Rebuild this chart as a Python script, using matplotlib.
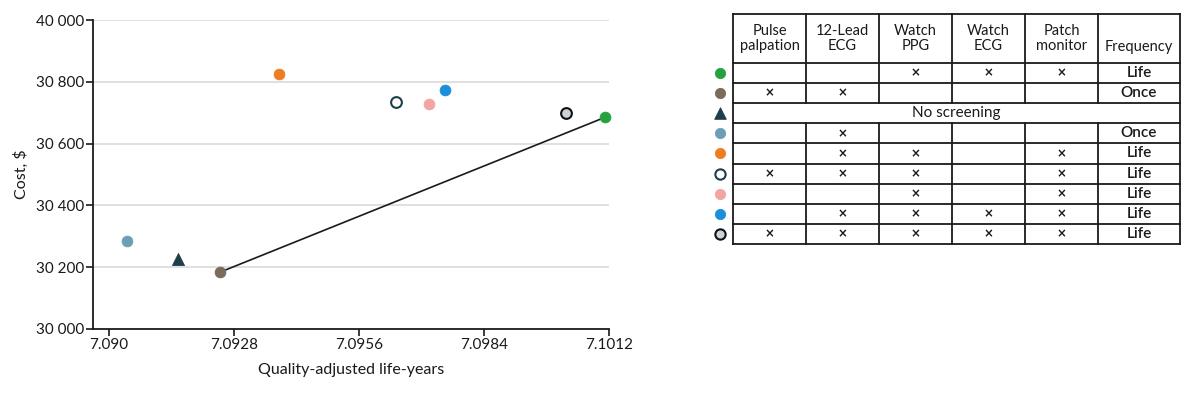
import matplotlib.pyplot as plt

plt.rcParams['font.family'] = ['Lato', 'DejaVu Sans']

# strategies, same order as the table rows
qaly = [7.10111, 7.09249, 7.09155, 7.09040, 7.09382, 7.09642, 7.09717, 7.09753, 7.10023]
cost = [30685, 30184, 30226, 30285, 30826, 30735, 30729, 30772, 30698]
face_colors = ['#25a23d', '#7b6b5a', '#1d3f4a', '#6b9fb4', '#ee7d22', '#ffffff', '#f2a5a2', '#1b8fd9', '#c9d4db']
edge_colors = ['#25a23d', '#7b6b5a', '#1d3f4a', '#6b9fb4', '#ee7d22', '#1d3f4a', '#f2a5a2', '#1b8fd9', '#111111']
markers = ['o', 'o', '^', 'o', 'o', 'o', 'o', 'o', 'o']

# frontier: brown -> green
frontier = [1, 0]

y_ticks = [30000, 30200, 30400, 30600, 30800, 31000]
y_labels = ['30 000', '30 200', '30 400', '30 600', '30 800', '40 000']
x_ticks = [7.090, 7.0928, 7.0956, 7.0984, 7.1012]
x_labels = ['7.090', '7.0928', '7.0956', '7.0984', '7.1012']

headers = ['Pulse\npalpation', '12-Lead\nECG', 'Watch\nPPG', 'Watch\nECG', 'Patch\nmonitor', 'Frequency']
checks = [
    [0, 0, 1, 1, 1],
    [1, 1, 0, 0, 0],
    None,
    [0, 1, 0, 0, 0],
    [0, 1, 1, 0, 1],
    [1, 1, 1, 0, 1],
    [0, 0, 1, 0, 1],
    [0, 1, 1, 1, 1],
    [1, 1, 1, 1, 1],
]
frequency = ['Life', 'Once', 'No screening', 'Once', 'Life', 'Life', 'Life', 'Life', 'Life']

fig = plt.figure(figsize=(12, 3.97), dpi=100)

# scatter plot
ax = fig.add_axes([93.3 / 1200, 68 / 397, 515.7 / 1200, 309 / 397])
ax.set_xlim(7.08965, 7.1012)
ax.set_ylim(30000, 31000)
for y in y_ticks[1:]:
    ax.axhline(y, color='#e0e0e0', linewidth=1.4, zorder=0)
ax.plot([qaly[i] for i in frontier], [cost[i] for i in frontier], color='#1a1a1a', linewidth=1.2, zorder=1)
for q, c, fc, ec, m in zip(qaly, cost, face_colors, edge_colors, markers):
    ax.scatter(q, c, s=60 if m == 'o' else 75, marker=m, facecolor=fc, edgecolor=ec,
               linewidth=1.5 if fc in ('#ffffff', '#c9d4db') else 0.6, zorder=3, clip_on=False)
ax.set_yticks(y_ticks)
ax.set_yticklabels(y_labels)
ax.set_xticks(x_ticks)
ax.set_xticklabels(x_labels)
ax.tick_params(labelsize=11, length=5, width=1.2, color='#1a1a1a', labelcolor='#1a1a1a', pad=1.5)
for s in ['top', 'right']:
    ax.spines[s].set_visible(False)
for s in ['left', 'bottom']:
    ax.spines[s].set_linewidth(1.3)
    ax.spines[s].set_color('#1a1a1a')
ax.set_ylabel('Cost, $', fontsize=11.5, color='#1a1a1a', labelpad=5)
ax.set_xlabel('Quality-adjusted life-years', fontsize=11.5, color='#1a1a1a', labelpad=8)

# table drawn in pixel coordinates
tb = fig.add_axes([0, 0, 1, 1])
tb.set_xlim(0, 1200)
tb.set_ylim(397, 0)
tb.axis('off')
col_edges = [733, 806, 879, 952, 1025, 1098, 1180]
top, head_bottom, row_h = 14, 63, 20.1
n_rows = len(frequency)
row_edges = [top, head_bottom] + [head_bottom + row_h * (i + 1) for i in range(n_rows)]
bottom = row_edges[-1]
lw = 1.3
for y in row_edges:
    tb.plot([col_edges[0], col_edges[-1]], [y, y], color='#1a1a1a', linewidth=lw)
for j, x in enumerate(col_edges):
    if j in (0, len(col_edges) - 1):
        tb.plot([x, x], [top, bottom], color='#1a1a1a', linewidth=lw)
    else:
        # skip the merged "No screening" row
        y0 = row_edges[1 + 2]
        y1 = row_edges[1 + 3]
        tb.plot([x, x], [top, y0], color='#1a1a1a', linewidth=lw)
        tb.plot([x, x], [y1, bottom], color='#1a1a1a', linewidth=lw)

centers = [(col_edges[k] + col_edges[k + 1]) / 2 for k in range(len(col_edges) - 1)]
for k, h in enumerate(headers):
    if '\n' in h:
        tb.text(centers[k], (top + head_bottom) / 2, h, ha='center', va='center',
                fontsize=10.5, color='#1a1a1a', linespacing=1.05)
    else:
        tb.text(centers[k], 47, h, ha='center', va='center', fontsize=10.5, color='#1a1a1a')

for i in range(n_rows):
    yc = (row_edges[i + 1] + row_edges[i + 2]) / 2
    m = markers[i]
    tb.scatter(720, yc, s=55 if m == 'o' else 70, marker=m, facecolor=face_colors[i],
               edgecolor=edge_colors[i], linewidth=1.5 if face_colors[i] in ('#ffffff', '#c9d4db') else 0.6)
    if checks[i] is None:
        tb.text((col_edges[0] + col_edges[-1]) / 2, yc, frequency[i], ha='center', va='center',
                fontsize=11, color='#1a1a1a')
        continue
    for k, v in enumerate(checks[i]):
        if v:
            tb.text(centers[k], yc, '×', ha='center', va='center', fontsize=8.5,
                    color='#1a1a1a', fontweight='bold', family='DejaVu Sans')
    tb.text(centers[-1], yc, frequency[i], ha='center', va='center', fontsize=11,
            color='#1a1a1a', fontweight='semibold')

plt.savefig('out.png', dpi=100)
